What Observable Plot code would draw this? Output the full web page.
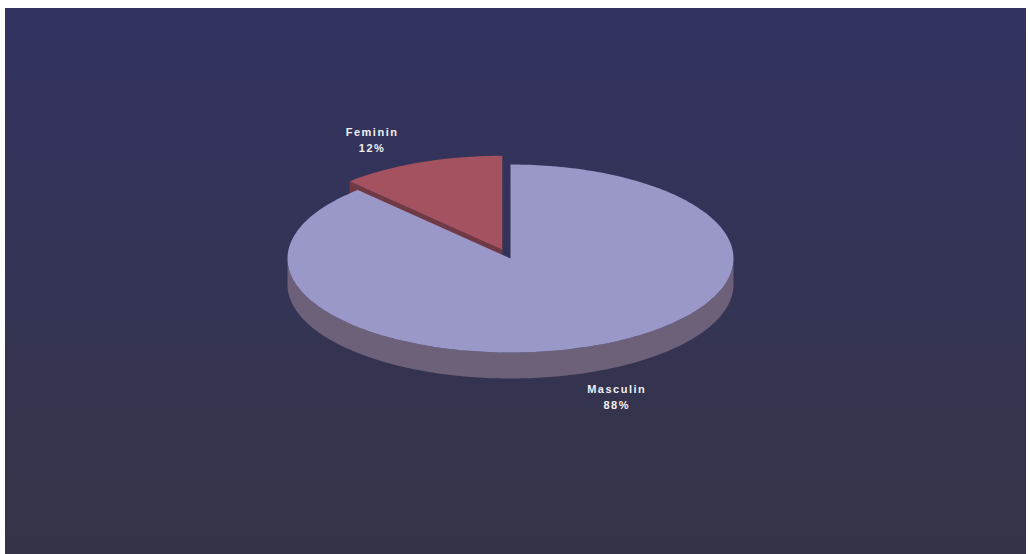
<!DOCTYPE html>
<html><head><meta charset="utf-8">
<script src="https://cdn.jsdelivr.net/npm/d3@7"></script>
<script src="https://cdn.jsdelivr.net/npm/@observablehq/plot@0.6"></script>
<style>
html,body{margin:0;padding:0;background:#fff;}
#chart{position:absolute;left:5px;top:8px;width:1021px;height:546px;background:linear-gradient(#333362,#343448);}
#chart svg{display:block;background:transparent;}
#chart text{letter-spacing:1.5px;}
</style></head><body><div id="chart"></div>
<script>
// ---- data ----
const categories = ["Masculin", "Feminin"];
const values = [88, 12];
const percentLabels = ["88%", "12%"];
const topColors = ["#9a97c9", "#a4525f"];
const sideColors = ["#6d6079", "#703a45"];

// ---- geometry (computed) ----
const W = 1021, H = 546;
const cx = 505, cy = 250, rx = 223, ry = 94, depthPx = 26;
const depth = depthPx / ry;           // in y units
const explodeIndex = 1, explodeR = 0.1;

const pie = d3.pie().sort(null).value(d => d.value);
const slices = pie(categories.map((c, i) => ({category: c, value: values[i], i})));

const pt = (t, ox, oy, dz = 0) => [ox + Math.sin(t), oy + Math.cos(t) - dz];
function arcPts(a0, a1, ox, oy, dz = 0) {
  const n = Math.max(2, Math.ceil((a1 - a0) / (Math.PI / 180)));
  return d3.range(n + 1).map(k => pt(a0 + (a1 - a0) * k / n, ox, oy, dz));
}

const tops = [], sides = [], labels = [];
slices.forEach(s => {
  const i = s.data.i;
  const b = (s.startAngle + s.endAngle) / 2;
  const e = i === explodeIndex ? explodeR : 0;
  const ox = e * Math.sin(b), oy = e * Math.cos(b);
  // top face
  tops.push({pts: [[ox, oy], ...arcPts(s.startAngle, s.endAngle, ox, oy)], fill: topColors[i]});
  // front rim (visible between 90° and 270°)
  const f0 = Math.max(s.startAngle, Math.PI / 2), f1 = Math.min(s.endAngle, 3 * Math.PI / 2);
  if (f1 > f0) {
    sides.push({pts: [...arcPts(f0, f1, ox, oy), ...arcPts(f0, f1, ox, oy, depth).reverse()], fill: sideColors[i]});
  }
  // radial faces facing the viewer
  if (s.startAngle > Math.PI) {
    const p = pt(s.startAngle, ox, oy);
    sides.push({pts: [[ox, oy], p, [p[0], p[1] - depth], [ox, oy - depth]], fill: sideColors[i]});
  }
  const lx = ox + 1.44 * Math.sin(b);
  const ly = oy + 1.27 * Math.cos(b) - (Math.cos(b) < 0 ? depth : 0);
  labels.push({lx, ly, text: `${categories[i]}\n${percentLabels[i]}`});
});

const poly = d => Plot.line(d.pts, {x: p => p[0], y: p => p[1], fill: d.fill, stroke: "none", curve: "linear-closed"});

const chart = Plot.plot({
  width: W, height: H, margin: 0,
  style: {background: "transparent"},
  x: {domain: [-1, 1], range: [cx - rx, cx + rx], axis: null},
  y: {domain: [-1, 1], range: [cy + ry, cy - ry], axis: null},
  marks: [
    ...sides.map(poly),
    ...tops.map(poly),
    Plot.text(labels, {x: "lx", y: "ly", dx: -12, text: "text", fill: "#f0f0f0", fontWeight: "bold",
      fontSize: 11, fontFamily: "Liberation Sans, Arial, sans-serif", lineHeight: 1.5})
  ]
});
document.getElementById("chart").appendChild(chart);
</script></body></html>
